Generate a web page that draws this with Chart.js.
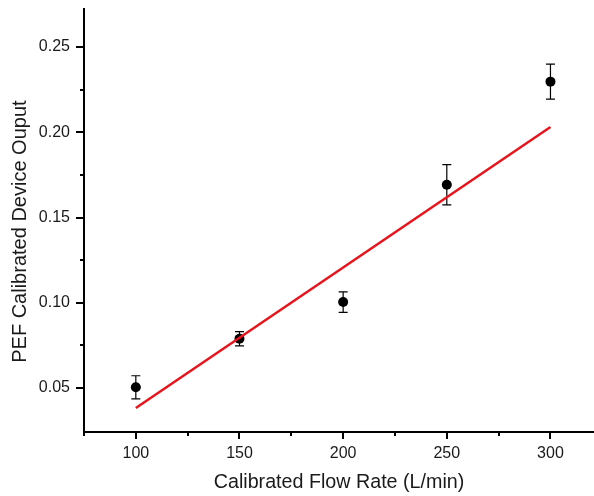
<!DOCTYPE html>
<html>
<head>
<meta charset="utf-8">
<script src="https://cdn.jsdelivr.net/npm/chart.js@4"></script>
<style>
  html, body { margin: 0; padding: 0; background: #fff; }
  #wrap { width: 594px; height: 496px; position: relative; }
</style>
</head>
<body>
<div id="wrap"><canvas id="c"></canvas></div>
<script>
// ---- Data ----
const flowRates   = [100, 150, 200, 250, 300];
const deviceOut   = [0.0504, 0.0789, 0.1004, 0.1692, 0.2297];
const errorVals   = [0.0068, 0.0042, 0.0060, 0.0118, 0.0103];
const fitX        = [100, 300];
const fitY        = [0.0383, 0.2031];
const xTicks      = [100, 150, 200, 250, 300];
const xTickLabels = ['100', '150', '200', '250', '300'];
const xMinorTicks = [75, 125, 175, 225, 275];
const yTicks      = [0.05, 0.10, 0.15, 0.20, 0.25];
const yTickLabels = ['0.05', '0.10', '0.15', '0.20', '0.25'];
const yMinorTicks = [0.075, 0.125, 0.175, 0.225];
const xTitle = 'Calibrated Flow Rate (L/min)';
const yTitle = 'PEF Calibrated Device Ouput';

const FONT = '"Liberation Sans", Arial, Helvetica, sans-serif';
const TEXT = '#1a1a1a';

function zeroPad(s) { s.paddingTop = 0; s.paddingBottom = 0; s.paddingLeft = 0; s.paddingRight = 0; }

const errorBarPlugin = {
  id: 'errorBars',
  beforeDatasetsDraw(chart) {
    const {ctx, scales: {x, y}} = chart;
    ctx.save();
    ctx.strokeStyle = '#000';
    ctx.lineWidth = 1.2;
    flowRates.forEach((fx, i) => {
      const px = x.getPixelForValue(fx);
      const top = y.getPixelForValue(deviceOut[i] + errorVals[i]);
      const bot = y.getPixelForValue(deviceOut[i] - errorVals[i]);
      ctx.beginPath();
      ctx.moveTo(px, top); ctx.lineTo(px, bot);
      ctx.moveTo(px - 4.5, top); ctx.lineTo(px + 4.5, top);
      ctx.moveTo(px - 4.5, bot); ctx.lineTo(px + 4.5, bot);
      ctx.stroke();
    });
    ctx.restore();
  }
};

const minorTickPlugin = {
  id: 'minorTicks',
  afterDraw(chart) {
    const {ctx, scales: {x, y}} = chart;
    ctx.save();
    ctx.strokeStyle = '#000';
    ctx.lineWidth = 2;
    xMinorTicks.forEach(v => {
      const px = Math.round(x.getPixelForValue(v));
      ctx.beginPath();
      ctx.moveTo(px, y.bottom); ctx.lineTo(px, y.bottom + 4);
      ctx.stroke();
    });
    yMinorTicks.forEach(v => {
      const py = Math.round(y.getPixelForValue(v));
      ctx.beginPath();
      ctx.moveTo(x.left, py); ctx.lineTo(x.left - 4, py);
      ctx.stroke();
    });
    ctx.restore();
  }
};

new Chart(document.getElementById('c'), {
  type: 'scatter',
  data: {
    datasets: [
      {
        type: 'line',
        label: 'Fit',
        data: fitX.map((v, i) => ({x: v, y: fitY[i]})),
        borderColor: 'rgb(232,20,28)',
        borderWidth: 2.5,
        pointRadius: 0,
        fill: false,
        order: 0
      },
      {
        label: 'Data',
        data: flowRates.map((v, i) => ({x: v, y: deviceOut[i]})),
        backgroundColor: '#000',
        borderColor: '#000',
        borderWidth: 0,
        pointRadius: 5,
        order: 1
      }
    ]
  },
  options: {
    responsive: true,
    maintainAspectRatio: false,
    animation: false,
    layout: { autoPadding: false, padding: { top: 9, right: 0, left: 0, bottom: 0 } },
    plugins: { legend: { display: false }, tooltip: { enabled: false } },
    scales: {
      x: {
        type: 'linear',
        min: 75,
        max: 321,
        afterFit(s) { s.height = 64; zeroPad(s); },
        afterBuildTicks(s) { s.ticks = xTicks.map(v => ({value: v})); },
        border: { display: true, color: '#000', width: 2 },
        grid: { drawOnChartArea: false, color: '#000', lineWidth: 2, tickLength: 7 },
        ticks: {
          color: TEXT,
          font: { family: FONT, size: 16 },
          padding: 5,
          maxRotation: 0,
          callback: (v) => { const i = xTicks.indexOf(v); return i >= 0 ? xTickLabels[i] : ''; }
        },
        title: {
          display: true,
          text: xTitle,
          color: TEXT,
          font: { family: FONT, size: 19.7 },
          padding: { top: 0, bottom: 2 }
        }
      },
      y: {
        type: 'linear',
        min: 0.0242,
        max: 0.2723,
        afterFit(s) { s.width = 84; zeroPad(s); },
        afterBuildTicks(s) { s.ticks = yTicks.map(v => ({value: v})); },
        border: { display: true, color: '#000', width: 2 },
        grid: { drawOnChartArea: false, color: '#000', lineWidth: 2, tickLength: 8 },
        ticks: {
          color: TEXT,
          font: { family: FONT, size: 16 },
          padding: 6,
          callback: (v) => { const i = yTicks.findIndex(t => Math.abs(t - v) < 1e-9); return i >= 0 ? yTickLabels[i] : ''; }
        },
        title: {
          display: true,
          text: yTitle + '    ',
          color: TEXT,
          font: { family: FONT, size: 20 },
          padding: { top: 8, bottom: 0 }
        }
      }
    }
  },
  plugins: [errorBarPlugin, minorTickPlugin]
});
</script>
</body>
</html>
